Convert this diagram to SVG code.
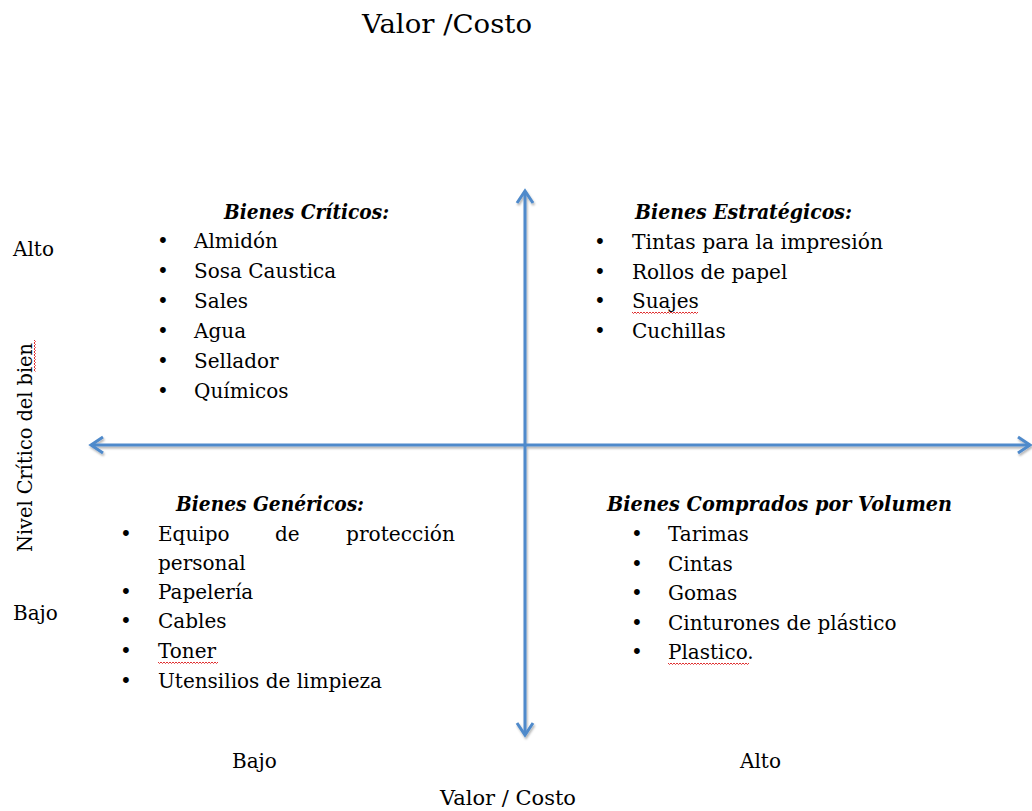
<svg xmlns="http://www.w3.org/2000/svg" width="1032" height="811" viewBox="0 0 1032 811">
  <style>
    .t { font-family: "DejaVu Serif", "Liberation Serif", serif; font-size: 20px; fill: #000; }
    .h { font-family: "DejaVu Serif", "Liberation Serif", serif; font-size: 20px; font-weight: bold; font-style: italic; fill: #000; }
    .ax { stroke: #4f8acb; stroke-width: 3; fill: none; }
    .sq { stroke: #e03030; stroke-width: 1; fill: none; }
  </style>
  <defs>
    <marker id="arr" markerUnits="userSpaceOnUse" viewBox="0 0 18 20" markerWidth="18" markerHeight="20" refX="15" refY="10" orient="auto-start-reverse">
      <path d="M3,2 L15,10 L3,18" fill="none" stroke="#4f8acb" stroke-width="3" stroke-linejoin="miter"/>
    </marker>
    <filter id="sh" x="-5%" y="-5%" width="110%" height="110%">
      <feDropShadow dx="1" dy="2" stdDeviation="1.2" flood-color="#000" flood-opacity="0.3"/>
    </filter>
  </defs>
  <rect width="1032" height="811" fill="#fff"/>

  <g id="title">
    <text class="t" x="362" y="33" style="font-size:26px" textLength="170" lengthAdjust="spacingAndGlyphs">Valor /Costo</text>
  </g>

  <g id="connectors" filter="url(#sh)">
    <line class="ax" x1="525" y1="735" x2="525" y2="191" marker-start="url(#arr)" marker-end="url(#arr)"/>
    <line class="ax" x1="91" y1="445" x2="1030" y2="445" marker-start="url(#arr)" marker-end="url(#arr)"/>
  </g>

  <g id="y-axis-labels">
    <text class="t" x="13" y="256">Alto</text>
    <text class="t" x="13" y="620">Bajo</text>
    <text class="t" transform="translate(32,552) rotate(-90)" x="0" y="0" textLength="209" lengthAdjust="spacingAndGlyphs">Nivel Crítico del bien</text>
    <path class="sq" d="M34,340 l1.5,1.5 l-1.5,1.5 l1.5,1.5 l-1.5,1.5 l1.5,1.5 l-1.5,1.5 l1.5,1.5 l-1.5,1.5 l1.5,1.5 l-1.5,1.5 l1.5,1.5 l-1.5,1.5 l1.5,1.5 l-1.5,1.5 l1.5,1.5 l-1.5,1.5 l1.5,1.5 l-1.5,1.5 l1.5,1.5 l-1.5,1.5 l1.5,1.5"/>
  </g>

  <g id="x-axis-labels">
    <text class="t" x="232" y="768">Bajo</text>
    <text class="t" x="740" y="768">Alto</text>
    <text class="t" x="440" y="805" textLength="136" lengthAdjust="spacingAndGlyphs">Valor / Costo</text>
  </g>

  <g id="bienes-criticos">
    <text class="h" x="224" y="219" textLength="165" lengthAdjust="spacingAndGlyphs">Bienes Críticos:</text>
    <g class="t">
      <text x="157" y="248">•</text><text x="194" y="248">Almidón</text>
      <text x="157" y="278">•</text><text x="194" y="278">Sosa Caustica</text>
      <text x="157" y="308">•</text><text x="194" y="308">Sales</text>
      <text x="157" y="338">•</text><text x="194" y="338">Agua</text>
      <text x="157" y="368">•</text><text x="194" y="368">Sellador</text>
      <text x="157" y="398">•</text><text x="194" y="398">Químicos</text>
    </g>
  </g>

  <g id="bienes-estrategicos">
    <text class="h" x="635" y="219" textLength="217" lengthAdjust="spacingAndGlyphs">Bienes Estratégicos:</text>
    <g class="t">
      <text x="594" y="249">•</text><text x="632" y="249" textLength="251" lengthAdjust="spacingAndGlyphs">Tintas para la impresión</text>
      <text x="594" y="279">•</text><text x="632" y="279">Rollos de papel</text>
      <text x="594" y="308">•</text><text x="632" y="308">Suajes</text>
      <text x="594" y="338">•</text><text x="632" y="338">Cuchillas</text>
    </g>
    <path class="sq" d="M632,312 l1.5,1.5 l1.5,-1.5 l1.5,1.5 l1.5,-1.5 l1.5,1.5 l1.5,-1.5 l1.5,1.5 l1.5,-1.5 l1.5,1.5 l1.5,-1.5 l1.5,1.5 l1.5,-1.5 l1.5,1.5 l1.5,-1.5 l1.5,1.5 l1.5,-1.5 l1.5,1.5 l1.5,-1.5 l1.5,1.5 l1.5,-1.5 l1.5,1.5 l1.5,-1.5 l1.5,1.5 l1.5,-1.5 l1.5,1.5 l1.5,-1.5 l1.5,1.5 l1.5,-1.5 l1.5,1.5 l1.5,-1.5 l1.5,1.5 l1.5,-1.5 l1.5,1.5 l1.5,-1.5 l1.5,1.5 l1.5,-1.5 l1.5,1.5 l1.5,-1.5 l1.5,1.5 l1.5,-1.5 l1.5,1.5 l1.5,-1.5 l1.5,1.5 l1.5,-1.5"/>
  </g>

  <g id="bienes-genericos">
    <text class="h" x="176" y="511" textLength="188" lengthAdjust="spacingAndGlyphs">Bienes Genéricos:</text>
    <g class="t">
      <text x="120" y="541">•</text><text x="158" y="541">Equipo</text><text x="275" y="541">de</text><text x="346" y="541" textLength="109" lengthAdjust="spacingAndGlyphs">protección</text>
      <text x="158" y="570">personal</text>
      <text x="120" y="599">•</text><text x="158" y="599">Papelería</text>
      <text x="120" y="628">•</text><text x="158" y="628">Cables</text>
      <text x="120" y="658">•</text><text x="158" y="658">Toner</text>
      <text x="120" y="688">•</text><text x="158" y="688">Utensilios de limpieza</text>
    </g>
    <path class="sq" d="M158,662 l1.5,1.5 l1.5,-1.5 l1.5,1.5 l1.5,-1.5 l1.5,1.5 l1.5,-1.5 l1.5,1.5 l1.5,-1.5 l1.5,1.5 l1.5,-1.5 l1.5,1.5 l1.5,-1.5 l1.5,1.5 l1.5,-1.5 l1.5,1.5 l1.5,-1.5 l1.5,1.5 l1.5,-1.5 l1.5,1.5 l1.5,-1.5 l1.5,1.5 l1.5,-1.5 l1.5,1.5 l1.5,-1.5 l1.5,1.5 l1.5,-1.5 l1.5,1.5 l1.5,-1.5 l1.5,1.5 l1.5,-1.5 l1.5,1.5 l1.5,-1.5 l1.5,1.5 l1.5,-1.5 l1.5,1.5 l1.5,-1.5 l1.5,1.5 l1.5,-1.5 l1.5,1.5 l1.5,-1.5"/>
  </g>

  <g id="bienes-comprados-por-volumen">
    <text class="h" x="607" y="511" textLength="345" lengthAdjust="spacingAndGlyphs">Bienes Comprados por Volumen</text>
    <g class="t">
      <text x="631" y="541">•</text><text x="668" y="541">Tarimas</text>
      <text x="631" y="571">•</text><text x="668" y="571">Cintas</text>
      <text x="631" y="600">•</text><text x="668" y="600">Gomas</text>
      <text x="631" y="630">•</text><text x="668" y="630">Cinturones de plástico</text>
      <text x="631" y="659">•</text><text x="668" y="659">Plastico.</text>
    </g>
    <path class="sq" d="M668,663 l1.5,1.5 l1.5,-1.5 l1.5,1.5 l1.5,-1.5 l1.5,1.5 l1.5,-1.5 l1.5,1.5 l1.5,-1.5 l1.5,1.5 l1.5,-1.5 l1.5,1.5 l1.5,-1.5 l1.5,1.5 l1.5,-1.5 l1.5,1.5 l1.5,-1.5 l1.5,1.5 l1.5,-1.5 l1.5,1.5 l1.5,-1.5 l1.5,1.5 l1.5,-1.5 l1.5,1.5 l1.5,-1.5 l1.5,1.5 l1.5,-1.5 l1.5,1.5 l1.5,-1.5 l1.5,1.5 l1.5,-1.5 l1.5,1.5 l1.5,-1.5 l1.5,1.5 l1.5,-1.5 l1.5,1.5 l1.5,-1.5 l1.5,1.5 l1.5,-1.5 l1.5,1.5 l1.5,-1.5 l1.5,1.5 l1.5,-1.5 l1.5,1.5 l1.5,-1.5 l1.5,1.5 l1.5,-1.5 l1.5,1.5 l1.5,-1.5 l1.5,1.5 l1.5,-1.5 l1.5,1.5 l1.5,-1.5 l1.5,1.5 l1.5,-1.5"/>
  </g>
</svg>
